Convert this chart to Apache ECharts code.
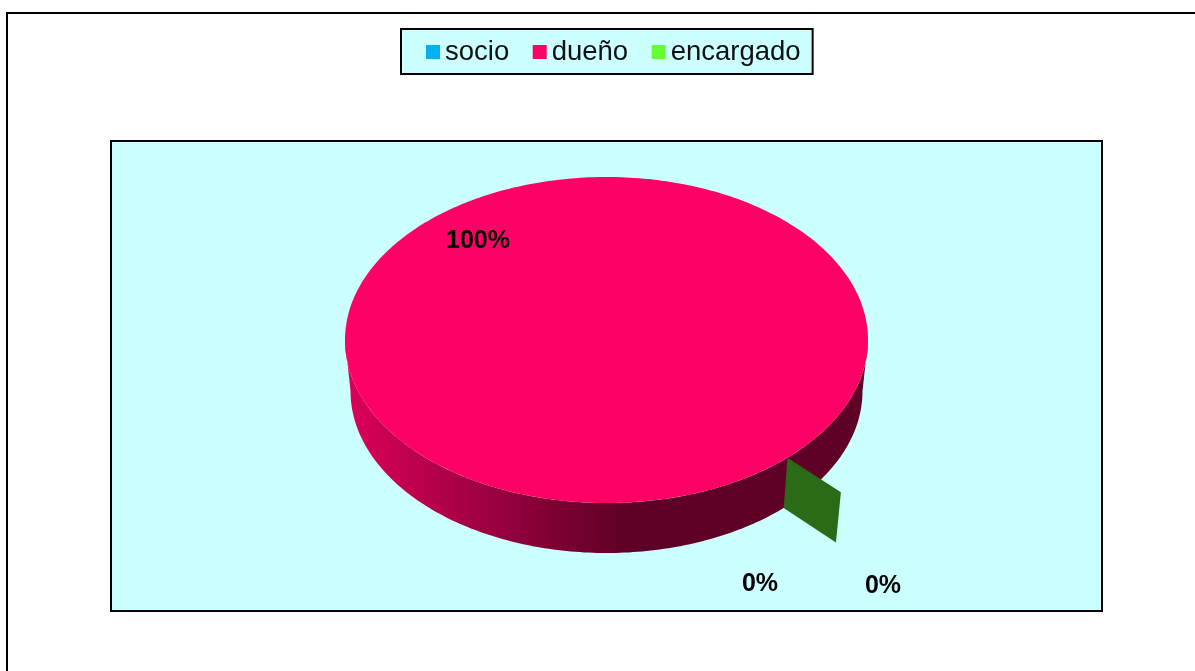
<!DOCTYPE html>
<html>
<head>
<meta charset="utf-8">
<style>
    html, body { margin: 0; padding: 0; background: #fff; overflow: hidden; }
    #chart { width: 1195px; height: 671px; }
</style>
</head>
<body>
<div id="chart"></div>
<script src="https://cdn.jsdelivr.net/npm/echarts@6/dist/echarts.min.js"></script>
<script>
    var categories = ['socio', 'dueño', 'encargado'];
    var values = [0, 100, 0];
    var colors = ['#00b0f0', '#ff0066', '#66ff33'];
    var faceColors = ['#005a7a', '#5f0026', '#2b6a17'];

    // how the fake 3d pie sits on the page
    var pie = { cx: 606.5, cy: 340, rx: 261.5, ry: 163, bottomCy: 391, bottomRx: 256, bottomRy: 162, start: 136.2 };
    var explode = [0, 0, 0.295];
    var labelAt = [[760, 584], [478, 241], [883, 586]];

    var total = values.reduce(function (a, b) { return a + b; }, 0);

    function topPoint(deg, k) {
        var a = deg * Math.PI / 180;
        return [pie.cx + pie.rx * k * Math.sin(a), pie.cy - pie.ry * k * Math.cos(a)];
    }
    function bottomPoint(deg, k) {
        var a = deg * Math.PI / 180;
        return [pie.cx + pie.bottomRx * k * Math.sin(a), pie.bottomCy - pie.bottomRy * k * Math.cos(a)];
    }
    function arc(fn, from, to) {
        var pts = [];
        var n = Math.max(1, Math.ceil(Math.abs(to - from)));
        for (var i = 0; i <= n; i++) {
            pts.push(fn(from + (to - from) * i / n, 1));
        }
        return pts;
    }

    function renderSlice(params, api) {
        var idx = params.seriesIndex;
        var value = api.value(0);
        var before = api.value(1);
        var from = pie.start + before / total * 360;
        var to = from + value / total * 360;
        var children = [];

        if (value > 0) {
            // front wall, only the part that faces us
            var front = arc(topPoint, 90, 270).concat(arc(bottomPoint, 270, 90));
            children.push({
                type: 'polygon',
                z2: 1,
                shape: { points: front },
                style: {
                    fill: {
                        type: 'linear', global: true, x: 345, y: 0, x2: 868, y2: 0,
                        colorStops: [
                            { offset: 0, color: '#dd005a' },
                            { offset: 0.53, color: '#5f0026' },
                            { offset: 1, color: '#5f0026' }
                        ]
                    }
                }
            });
            var top = arc(topPoint, from, to);
            children.push({
                type: 'polygon',
                z2: 3,
                shape: { points: top },
                style: { fill: colors[idx] }
            });
        } else if (explode[idx] > 0) {
            // zero slice pulled out of the pie, just the cut face shows
            var k = 1 + explode[idx];
            children.push({
                type: 'polygon',
                z2: 2,
                shape: { points: [topPoint(from, 1), topPoint(from, k), bottomPoint(from, k), bottomPoint(from, 1)] },
                style: { fill: faceColors[idx] }
            });
        }

        children.push({
            type: 'text',
            z2: 4,
            style: {
                x: labelAt[idx][0],
                y: labelAt[idx][1],
                text: Math.round(value / total * 100) + '%',
                fill: '#000',
                font: 'bold 25px "Liberation Sans", Arial, sans-serif',
                align: 'center',
                verticalAlign: 'middle'
            }
        });
        return { type: 'group', children: children };
    }

    var sum = 0;
    var series = categories.map(function (name, i) {
        var s = {
            name: name,
            type: 'custom',
            coordinateSystem: 'none',
            silent: true,
            animation: false,
            itemStyle: { color: colors[i] },
            renderItem: renderSlice,
            data: [[values[i], sum]]
        };
        sum += values[i];
        return s;
    });

    var chart = echarts.init(document.getElementById('chart'));
    chart.setOption({
        animation: false,
        backgroundColor: '#fff',
        graphic: [
            {
                type: 'polyline', z: 0, silent: true,
                shape: { points: [[7, 671], [7, 13], [1195, 13]] },
                style: { stroke: '#000', lineWidth: 2, fill: null }
            },
            {
                type: 'rect', z: 0, silent: true,
                shape: { x: 111, y: 141, width: 991, height: 470 },
                style: { fill: '#ccffff', stroke: '#000', lineWidth: 2 }
            }
        ],
        legend: {
            left: 401,
            top: 29,
            orient: 'horizontal',
            selectedMode: false,
            data: categories,
            icon: 'rect',
            itemWidth: 14,
            itemHeight: 14,
            itemGap: 23.5,
            padding: [9, 12, 8, 25],
            backgroundColor: '#ccffff',
            borderColor: '#000',
            borderWidth: 2,
            textStyle: { color: '#111', fontSize: 27.5, fontFamily: '"Liberation Sans", Arial, sans-serif' }
        },
        series: series
    });
</script>
</body>
</html>
